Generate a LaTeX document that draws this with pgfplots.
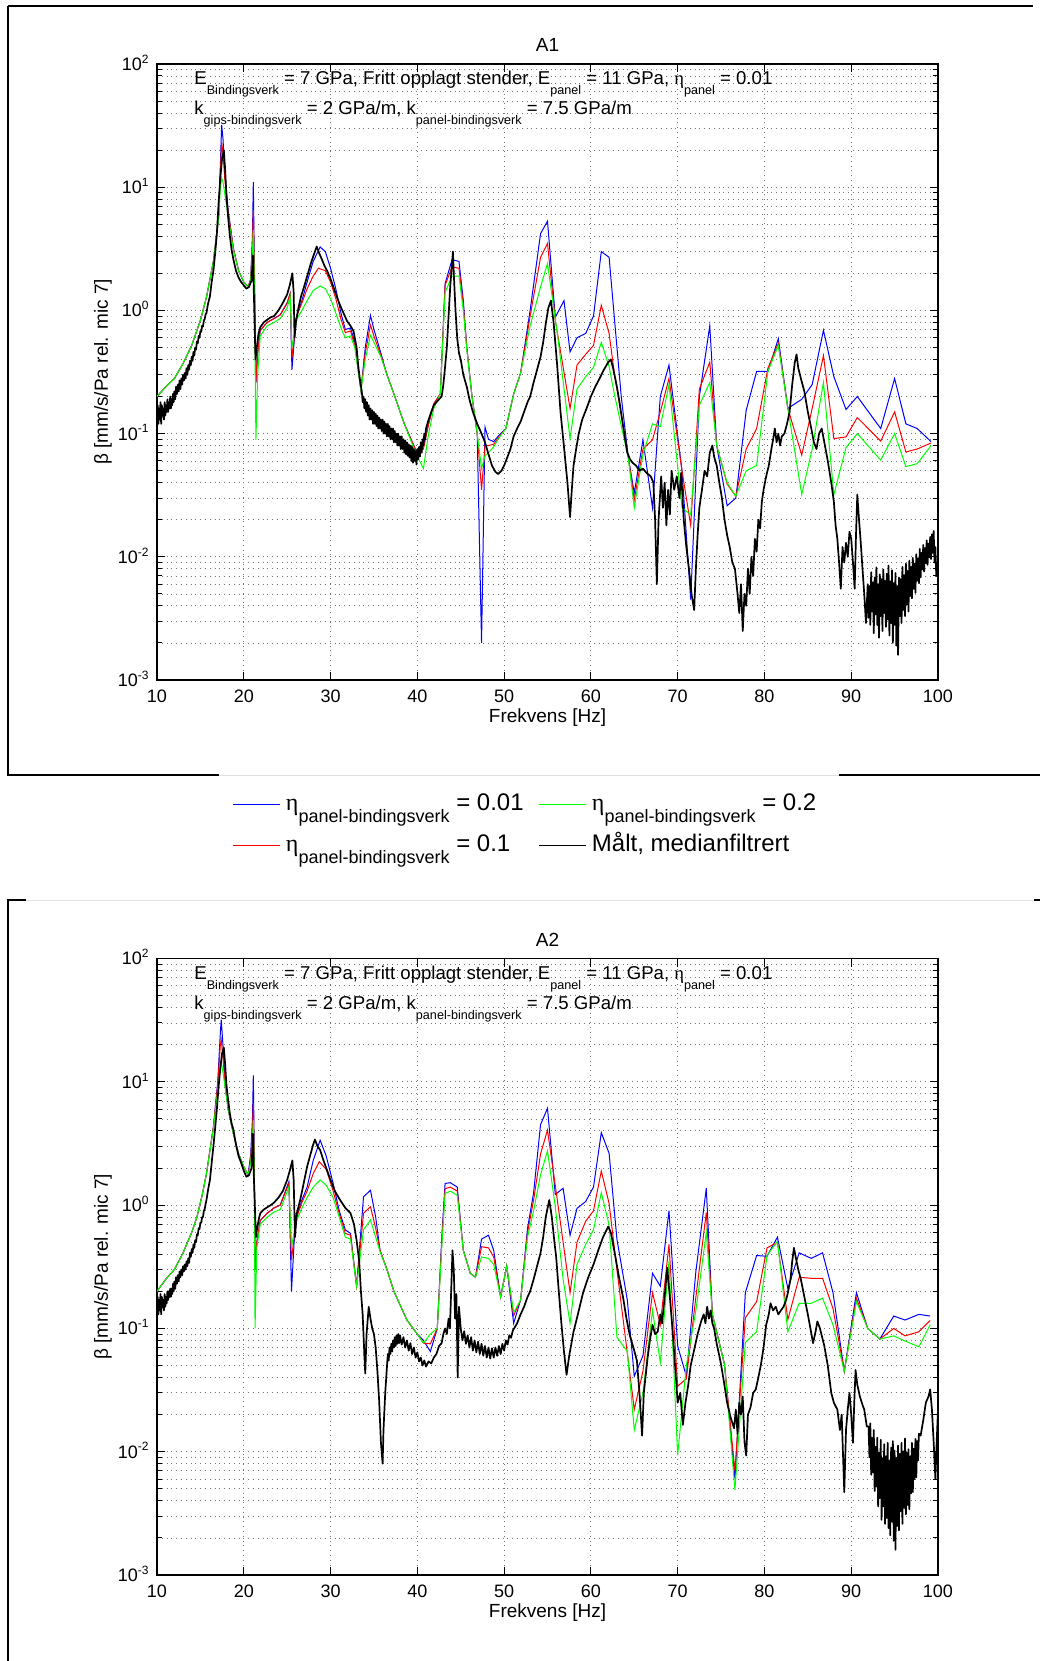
\documentclass[border=0pt]{standalone}
\usepackage{fontspec}
\setmainfont{Liberation Sans}
\newfontfamily\serifeta{Liberation Serif}
\usepackage{pgfplots}
\pgfplotsset{compat=1.18}
\newcommand{\sub}[1]{\raisebox{-5pt}{\fontsize{6.3}{7}\selectfont #1}}
\newcommand{\lsub}[1]{\raisebox{-5.75pt}{\fontsize{9}{10}\selectfont #1}}
\newcommand{\etasym}{{\serifeta η}}
\newcommand{\tp}[1]{10\raisebox{3.6pt}{\fontsize{6}{6}\selectfont #1}}
\tikzset{model/.style={line width=0.5pt}, meas/.style={black,line width=0.85pt,line join=round}}
\begin{document}
\begin{tikzpicture}
\path[use as bounding box] (0,0) rectangle (520pt,-830.5pt);
% frames
\draw[line width=0.6pt] (4pt,-3pt) -- (516.5pt,-3pt);
\draw[line width=0.6pt] (4pt,-3pt) -- (4pt,-387.5pt) -- (109.5pt,-387.5pt);
\draw[line width=0.6pt] (419.5pt,-387.5pt) -- (520pt,-387.5pt);
\draw[black!12,line width=0.5pt] (109.5pt,-387.5pt) -- (419.5pt,-387.5pt);
\draw[black!12,line width=0.5pt] (13pt,-450pt) -- (517pt,-450pt);
\draw[line width=0.6pt] (13pt,-450pt) -- (4pt,-450pt) -- (4pt,-830.5pt);
\draw[line width=0.6pt] (517pt,-450pt) -- (520pt,-450pt);

%================ A1 ================
\begin{axis}[
    scale only axis, width=390.5pt, height=308pt,
    at={(78.5pt,-32pt)}, anchor=north west, title={A1},
    xmin=10, xmax=100, ymode=log, ymin=1e-3, ymax=1e2,
    xtick={10,20,30,40,50,60,70,80,90,100},
    xticklabels={10,20,30,40,50,60,70,80,90,100},
    ytick={1e-3,1e-2,1e-1,1,10,100},
    yticklabels={\tp{-3},\tp{-2},\tp{-1},\tp{0},\tp{1},\tp{2}},
    minor ytick={2e-3,3e-3,4e-3,5e-3,6e-3,7e-3,8e-3,9e-3,2e-2,3e-2,4e-2,5e-2,6e-2,7e-2,8e-2,9e-2,0.2,0.3,0.4,0.5,0.6,0.7,0.8,0.9,2,3,4,5,6,7,8,9,20,30,40,50,60,70,80,90},
    grid=both, xminorgrids=false,
    major grid style={dotted,black!55,line width=0.4pt},
    minor grid style={dotted,black!55,line width=0.4pt},
    tick align=inside, tick pos=both,
    major tick length=4pt, minor tick length=2.5pt,
    tick style={black,line width=0.5pt},
    axis line style={line width=0.6pt},
    tick label style={font=\fontsize{9}{10}\selectfont},
    xticklabel style={anchor=base, yshift=-11.2pt, inner sep=0pt},
    yticklabel style={anchor=base east, yshift=-3.2pt, xshift=-4pt, inner sep=0pt},
    xlabel={Frekvens [Hz]},
    ylabel={β [mm/s/Pa rel. mic 7]},
    label style={font=\fontsize{9.5}{10}\selectfont},
    xlabel style={at={(axis description cs:0.5,-0.0617)}, anchor=center, inner sep=0pt},
    ylabel style={at={(axis description cs:-0.0691,0.5)}, anchor=center, inner sep=0pt},
    title style={at={(axis description cs:0.5,1.0308)}, anchor=center, yshift=-6pt, font=\fontsize{9.5}{10}\selectfont, inner sep=0pt},
  legend columns=2,
  legend style={at={(axis description cs:0.0973,-0.1763)}, anchor=north west, draw=none, fill=none,
    inner sep=0pt, outer sep=0pt, nodes={inner sep=0pt, text height=11pt, text depth=8pt, anchor=base west},
    row sep=1.5pt, /tikz/every odd column/.style={column sep=2.5pt},
    font=\fontsize{12}{14}\selectfont},
  legend image code/.code={\draw[#1,line width=0.5pt] (0pt,3.3pt) -- (23.5pt,3.3pt);}
]
\addlegendimage{blue}
\addlegendentry{\makebox[126.5pt][l]{\etasym\lsub{panel-bindingsverk} = 0.01}}
\addlegendimage{green}
\addlegendentry{\etasym\lsub{panel-bindingsverk} = 0.2}
\addlegendimage{red}
\addlegendentry{\makebox[126.5pt][l]{\etasym\lsub{panel-bindingsverk} = 0.1}}
\addlegendimage{black}
\addlegendentry{Målt, medianfiltrert}

\addplot[model, blue, forget plot] coordinates {(10,0.2)(11,0.24)(12,0.28)(13,0.37)(14,0.52)(15,0.83)(15.7,1.28)(16.5,2.5)(17.1,5.7)(17.3,15)(17.45,32)(17.6,25)(17.8,14)(18.2,6.5)(18.8,3.2)(19.4,2.1)(20,1.7)(20.5,1.55)(20.8,1.8)(21.0,4)(21.1,11)(21.2,3)(21.4,0.26)(21.6,0.45)(21.9,0.69)(22.7,0.8)(23.5,0.86)(24.2,0.92)(25.0,1.15)(25.35,1.37)(25.55,0.33)(25.8,0.55)(26.1,0.9)(26.7,1.2)(27.3,1.7)(28.0,2.5)(28.8,3.27)(29.4,3.0)(30.0,2.2)(30.6,1.5)(31.2,0.95)(31.7,0.7)(32.3,0.72)(32.8,0.55)(33.5,0.225)(34.0,0.5)(34.6,0.91)(35.0,0.7)(35.8,0.45)(36.5,0.3)(37.3,0.21)(38.5,0.12)(39.8,0.074)(40.2,0.066)(40.7,0.08)(41.3,0.12)(41.9,0.175)(42.65,0.21)(43.2,1.65)(44.0,2.58)(44.8,2.5)(45.3,1.2)(45.7,0.5)(46.3,0.2)(46.9,0.1)(47.4,0.002)(47.8,0.113)(48.2,0.09)(48.8,0.086)(49.3,0.095)(50.2,0.11)(51.1,0.21)(51.9,0.31)(53.0,1.0)(54.2,4.2)(55.0,5.3)(55.9,0.88)(56.9,1.2)(57.6,0.46)(58.4,0.6)(59.4,0.65)(60.3,0.9)(61.2,3.0)(62.1,2.7)(62.7,0.88)(63.5,0.2)(64.3,0.065)(65.0,0.033)(66.0,0.089)(67.1,0.025)(68.0,0.2)(69.0,0.36)(70.5,0.05)(71.5,0.0045)(72.5,0.2)(73.7,0.75)(74.5,0.08)(75.7,0.026)(76.7,0.03)(77.9,0.155)(79.1,0.32)(80.4,0.32)(81.6,0.59)(82.7,0.16)(84.3,0.19)(85.5,0.25)(86.8,0.69)(88.0,0.29)(89.4,0.157)(90.7,0.2)(93.4,0.11)(95.0,0.28)(96.3,0.12)(97.6,0.11)(99.2,0.086)};
\addplot[model, red, forget plot] coordinates {(10,0.2)(11,0.24)(12,0.28)(13,0.37)(14,0.52)(15,0.83)(15.7,1.28)(16.5,2.5)(17.1,5.7)(17.3,13)(17.45,23)(17.6,19)(17.8,12)(18.2,6.3)(18.8,3.2)(19.4,2.1)(20,1.7)(20.5,1.55)(20.8,1.8)(21.0,3.5)(21.1,6.5)(21.2,2.5)(21.4,0.26)(21.6,0.45)(21.9,0.69)(22.7,0.8)(23.5,0.86)(24.2,0.92)(25.0,1.15)(25.35,1.37)(25.55,0.41)(25.8,0.58)(26.1,0.9)(26.7,1.15)(27.3,1.5)(28.0,1.9)(28.6,2.2)(29.4,2.1)(30.0,1.7)(30.6,1.25)(31.2,0.85)(31.7,0.66)(32.3,0.68)(32.8,0.52)(33.5,0.225)(34.0,0.45)(34.6,0.76)(35.0,0.62)(35.8,0.43)(36.5,0.3)(37.3,0.21)(38.5,0.12)(39.8,0.074)(40.2,0.07)(40.7,0.075)(41.3,0.12)(41.9,0.175)(42.65,0.21)(43.2,1.6)(44.0,2.25)(44.8,2.2)(45.3,1.1)(45.7,0.5)(46.3,0.2)(46.9,0.1)(47.4,0.035)(47.8,0.08)(48.2,0.08)(48.8,0.082)(49.3,0.092)(50.2,0.11)(51.1,0.21)(51.9,0.31)(53.0,0.9)(54.2,2.7)(55.0,3.5)(55.9,0.83)(57.6,0.16)(58.4,0.36)(59.4,0.44)(60.3,0.52)(61.2,1.1)(62.1,0.65)(62.7,0.31)(64.3,0.065)(65.0,0.029)(66.0,0.075)(67.1,0.089)(68.0,0.15)(69.0,0.28)(70.5,0.05)(71.5,0.018)(72.5,0.23)(73.7,0.38)(74.5,0.08)(75.7,0.039)(76.7,0.031)(77.9,0.075)(79.1,0.11)(80.4,0.34)(81.6,0.54)(82.7,0.16)(84.3,0.067)(85.5,0.16)(86.8,0.43)(88.0,0.091)(89.4,0.094)(90.7,0.135)(93.4,0.087)(95.0,0.15)(96.3,0.071)(97.6,0.075)(99.2,0.084)};
\addplot[model, green, forget plot] coordinates {(10,0.2)(11,0.24)(12,0.28)(13,0.37)(14,0.52)(15,0.83)(15.7,1.28)(16.5,2.5)(17.1,5.5)(17.3,10)(17.45,11.8)(17.6,11)(17.8,9)(18.2,5.8)(18.8,3.1)(19.4,2.1)(20,1.7)(20.5,1.55)(20.8,1.75)(21.0,3)(21.1,4.5)(21.2,2)(21.4,0.089)(21.6,0.3)(21.9,0.62)(22.7,0.75)(23.5,0.8)(24.2,0.86)(25.0,1.05)(25.35,1.3)(25.55,0.51)(25.8,0.62)(26.1,0.85)(26.7,1.0)(27.3,1.2)(28.0,1.45)(28.8,1.58)(29.4,1.5)(30.0,1.25)(30.6,0.95)(31.2,0.72)(31.7,0.6)(32.3,0.62)(32.8,0.5)(33.5,0.225)(34.0,0.4)(34.6,0.63)(35.0,0.55)(35.8,0.42)(36.5,0.3)(37.3,0.21)(38.5,0.12)(39.8,0.07)(40.7,0.052)(41.3,0.1)(41.9,0.16)(42.65,0.21)(43.2,1.4)(44.0,1.9)(44.8,1.9)(45.3,1.0)(45.7,0.48)(46.3,0.2)(46.9,0.1)(47.4,0.052)(47.8,0.066)(48.2,0.07)(48.8,0.078)(49.3,0.09)(50.2,0.11)(51.1,0.21)(51.9,0.31)(53.0,0.75)(54.2,1.55)(55.0,2.4)(56.2,0.6)(57.6,0.091)(58.4,0.23)(59.4,0.29)(60.3,0.345)(61.2,0.55)(62.1,0.35)(62.7,0.21)(64.3,0.064)(65.0,0.025)(66.0,0.068)(67.1,0.12)(68.0,0.114)(69.0,0.25)(70.5,0.025)(71.5,0.022)(72.5,0.17)(73.7,0.26)(74.5,0.08)(75.7,0.04)(76.7,0.031)(77.9,0.05)(79.1,0.055)(80.4,0.32)(81.6,0.52)(82.7,0.16)(84.3,0.032)(85.5,0.075)(86.8,0.26)(88.0,0.032)(89.4,0.077)(90.7,0.1)(93.4,0.061)(95.0,0.1)(96.3,0.054)(97.6,0.057)(99.2,0.08)};
\addplot[meas, forget plot] coordinates {(10.0,0.11)(10.08,0.17)(10.16,0.12)(10.24,0.16)(10.32,0.13)(10.4,0.18)(10.48,0.12)(10.56,0.17)(10.64,0.14)(10.72,0.16)(10.8,0.13)(10.88,0.18)(10.96,0.14)(11.04,0.17)(11.12,0.15)(11.2,0.19)(11.28,0.15)(11.36,0.18)(11.44,0.16)(11.52,0.2)(11.6,0.16)(11.68,0.19)(11.76,0.17)(11.84,0.21)(11.92,0.18)(12.0,0.22)(12.1,0.19)(12.2,0.24)(12.3,0.21)(12.4,0.25)(12.5,0.22)(12.6,0.27)(12.7,0.23)(12.8,0.28)(12.9,0.25)(13.0,0.3)(13.1,0.27)(13.2,0.31)(13.3,0.28)(13.4,0.34)(13.5,0.3)(13.6,0.36)(13.7,0.33)(13.8,0.39)(13.9,0.36)(14.0,0.42)(14.1,0.39)(14.2,0.46)(14.3,0.43)(14.4,0.5)(14.5,0.48)(14.6,0.56)(14.7,0.54)(14.8,0.62)(14.9,0.6)(15.0,0.68)(15.1,0.67)(15.2,0.75)(15.3,0.74)(15.4,0.83)(15.5,0.85)(15.6,0.93)(15.7,0.95)(15.8,1.05)(15.9,1.15)(16.1,1.3)(16.3,1.7)(16.5,2.1)(16.7,2.9)(16.9,4.2)(17.1,7.5)(17.3,12)(17.5,17)(17.7,20)(17.85,14)(18.0,8.5)(18.2,5.7)(18.4,4.0)(18.6,3.1)(18.8,2.6)(19.1,2.1)(19.4,1.85)(19.7,1.7)(20.0,1.6)(20.3,1.5)(20.6,1.55)(20.9,1.75)(21.05,2.8)(21.15,1.5)(21.35,0.4)(21.5,0.5)(21.7,0.65)(21.9,0.73)(22.3,0.8)(22.7,0.84)(23.1,0.88)(23.5,0.9)(24.0,1.0)(24.5,1.15)(25.0,1.35)(25.3,1.6)(25.6,2.0)(25.75,1.4)(25.85,0.6)(26.0,0.8)(26.3,1.05)(26.6,1.3)(27.0,1.6)(27.4,2.0)(27.8,2.5)(28.2,3.0)(28.4,3.3)(28.7,2.9)(29.0,2.6)(29.3,2.3)(29.6,2.1)(30.0,1.8)(30.4,1.5)(30.7,1.3)(31.1,1.1)(31.5,0.95)(31.9,0.82)(32.3,0.75)(32.65,0.68)(33.0,0.5)(33.2,0.35)(33.4,0.27)(33.6,0.22)(33.7,0.18)(33.8,0.2)(33.9,0.16)(34.0,0.19)(34.1,0.15)(34.2,0.18)(34.3,0.14)(34.4,0.17)(34.5,0.13)(34.6,0.16)(34.7,0.13)(34.8,0.155)(34.9,0.12)(35.0,0.15)(35.1,0.12)(35.2,0.145)(35.3,0.115)(35.4,0.14)(35.5,0.11)(35.6,0.135)(35.7,0.11)(35.8,0.13)(35.9,0.105)(36.0,0.13)(36.1,0.1)(36.2,0.125)(36.3,0.1)(36.4,0.12)(36.5,0.095)(36.6,0.12)(36.7,0.095)(36.8,0.115)(36.9,0.09)(37.0,0.11)(37.1,0.09)(37.2,0.11)(37.3,0.085)(37.4,0.105)(37.5,0.085)(37.6,0.1)(37.7,0.08)(37.8,0.1)(37.9,0.08)(38.0,0.095)(38.1,0.075)(38.2,0.095)(38.3,0.075)(38.4,0.09)(38.5,0.07)(38.6,0.088)(38.7,0.068)(38.8,0.085)(38.9,0.066)(39.0,0.082)(39.1,0.064)(39.2,0.08)(39.3,0.06)(39.4,0.078)(39.5,0.058)(39.6,0.075)(39.7,0.06)(39.8,0.072)(39.9,0.056)(40.0,0.075)(40.1,0.062)(40.2,0.078)(40.3,0.065)(40.4,0.085)(40.5,0.07)(40.6,0.09)(40.7,0.08)(40.8,0.1)(40.9,0.09)(41.0,0.11)(41.3,0.13)(41.6,0.15)(41.9,0.17)(42.2,0.18)(42.5,0.19)(42.8,0.2)(43.0,0.25)(43.2,0.35)(43.4,0.5)(43.6,0.9)(43.8,1.6)(44.0,2.4)(44.1,3.0)(44.2,2.0)(44.4,1.0)(44.6,0.59)(44.8,0.45)(45.0,0.4)(45.3,0.3)(45.7,0.24)(46.0,0.19)(46.4,0.15)(46.9,0.12)(47.4,0.1)(47.8,0.085)(48.2,0.068)(48.6,0.055)(49.0,0.049)(49.3,0.047)(49.7,0.05)(50.0,0.055)(50.4,0.065)(50.7,0.074)(51.1,0.095)(51.5,0.11)(51.9,0.125)(52.3,0.15)(52.7,0.18)(53.0,0.2)(53.4,0.26)(53.8,0.33)(54.2,0.42)(54.5,0.55)(54.8,0.78)(55.1,1.05)(55.4,1.2)(55.7,0.8)(56.1,0.37)(56.5,0.15)(56.9,0.078)(57.3,0.04)(57.6,0.021)(57.8,0.035)(58.0,0.055)(58.3,0.075)(58.6,0.1)(59.0,0.13)(59.5,0.16)(60.0,0.2)(60.5,0.24)(61.0,0.28)(61.5,0.33)(62.0,0.38)(62.3,0.4)(62.6,0.33)(63.0,0.24)(63.3,0.18)(63.6,0.13)(64.0,0.085)(64.2,0.07)(64.5,0.062)(64.8,0.058)(65.2,0.055)(65.6,0.05)(66.0,0.052)(66.4,0.048)(66.9,0.045)(67.2,0.04)(67.4,0.02)(67.6,0.006)(67.8,0.02)(68.1,0.045)(68.3,0.025)(68.5,0.04)(68.7,0.018)(68.9,0.035)(69.1,0.022)(69.3,0.05)(69.6,0.035)(69.9,0.045)(70.2,0.03)(70.4,0.048)(70.7,0.02)(71.0,0.012)(71.3,0.008)(71.6,0.005)(71.9,0.0037)(72.1,0.008)(72.3,0.015)(72.5,0.025)(72.8,0.035)(73.1,0.05)(73.4,0.045)(73.7,0.07)(74.0,0.08)(74.2,0.065)(74.5,0.055)(74.8,0.04)(75.1,0.03)(75.4,0.02)(75.7,0.015)(76.0,0.012)(76.3,0.009)(76.6,0.008)(76.9,0.005)(77.1,0.0035)(77.3,0.006)(77.5,0.0025)(77.7,0.005)(77.9,0.004)(78.1,0.008)(78.3,0.005)(78.5,0.01)(78.7,0.007)(78.9,0.014)(79.1,0.011)(79.3,0.02)(79.5,0.017)(79.7,0.028)(79.9,0.035)(80.2,0.045)(80.5,0.055)(80.8,0.075)(81.0,0.09)(81.2,0.11)(81.4,0.085)(81.6,0.1)(81.8,0.08)(82.0,0.095)(82.3,0.1)(82.6,0.12)(82.9,0.15)(83.2,0.25)(83.5,0.38)(83.7,0.44)(83.9,0.34)(84.2,0.28)(84.6,0.22)(85.0,0.15)(85.4,0.11)(85.7,0.085)(86.0,0.075)(86.3,0.1)(86.6,0.11)(86.9,0.085)(87.3,0.06)(87.7,0.04)(88.0,0.028)(88.2,0.018)(88.4,0.014)(88.6,0.009)(88.8,0.0055)(89.0,0.012)(89.2,0.009)(89.4,0.013)(89.6,0.01)(89.8,0.016)(90.0,0.014)(90.2,0.009)(90.4,0.0055)(90.55,0.015)(90.7,0.032)(90.9,0.02)(91.1,0.013)(91.3,0.008)(91.5,0.005)(91.7,0.0029)(91.9,0.006)(92.0,0.0032)(92.1,0.0058)(92.2,0.0028)(92.3,0.0075)(92.4,0.0036)(92.5,0.0062)(92.6,0.0024)(92.7,0.0068)(92.8,0.0034)(92.9,0.0082)(93.0,0.0028)(93.1,0.006)(93.2,0.0022)(93.3,0.0072)(93.4,0.0033)(93.5,0.0066)(93.6,0.0025)(93.7,0.0079)(93.8,0.0035)(93.9,0.0064)(94.0,0.0027)(94.1,0.0073)(94.2,0.0031)(94.3,0.0085)(94.4,0.0023)(94.5,0.0063)(94.6,0.0029)(94.7,0.0078)(94.8,0.002)(94.9,0.0061)(95.0,0.0028)(95.1,0.0074)(95.2,0.0019)(95.3,0.0058)(95.4,0.0016)(95.5,0.0068)(95.6,0.0033)(95.7,0.0066)(95.8,0.0029)(95.9,0.0083)(96.0,0.0037)(96.1,0.0071)(96.2,0.0033)(96.3,0.0088)(96.4,0.0041)(96.5,0.0077)(96.6,0.0036)(96.7,0.0093)(96.8,0.0048)(96.9,0.0083)(97.0,0.0046)(97.1,0.0098)(97.2,0.0055)(97.3,0.0088)(97.4,0.0051)(97.5,0.0105)(97.6,0.0064)(97.7,0.0097)(97.8,0.0061)(97.9,0.0116)(98.0,0.0068)(98.1,0.0108)(98.2,0.0079)(98.3,0.0125)(98.4,0.0076)(98.5,0.0118)(98.6,0.0089)(98.7,0.0136)(98.8,0.0086)(98.9,0.0128)(99.0,0.0099)(99.1,0.0145)(99.2,0.0096)(99.3,0.0152)(99.4,0.0108)(99.5,0.0162)(99.6,0.009)(99.7,0.012)(99.8,0.007)(99.9,0.009)(100,0.0065)};
\node[anchor=base west, inner sep=0pt, font=\fontsize{9.3}{10}\selectfont] at (axis description cs:0.0474,0.9667) {E\sub{Bindingsverk} = 7 GPa, Fritt opplagt stender, E\sub{panel} = 11 GPa, \etasym\sub{panel} = 0.01};
\node[anchor=base west, inner sep=0pt, font=\fontsize{9.3}{10}\selectfont] at (axis description cs:0.0474,0.918) {k\sub{gips-bindingsverk} = 2 GPa/m, k\sub{panel-bindingsverk} = 7.5 GPa/m};
\end{axis}

%================ A2 ================
\begin{axis}[
    scale only axis, width=390.5pt, height=308.25pt,
    at={(78.5pt,-479.25pt)}, anchor=north west, title={A2},
    xmin=10, xmax=100, ymode=log, ymin=1e-3, ymax=1e2,
    xtick={10,20,30,40,50,60,70,80,90,100},
    xticklabels={10,20,30,40,50,60,70,80,90,100},
    ytick={1e-3,1e-2,1e-1,1,10,100},
    yticklabels={\tp{-3},\tp{-2},\tp{-1},\tp{0},\tp{1},\tp{2}},
    minor ytick={2e-3,3e-3,4e-3,5e-3,6e-3,7e-3,8e-3,9e-3,2e-2,3e-2,4e-2,5e-2,6e-2,7e-2,8e-2,9e-2,0.2,0.3,0.4,0.5,0.6,0.7,0.8,0.9,2,3,4,5,6,7,8,9,20,30,40,50,60,70,80,90},
    grid=both, xminorgrids=false,
    major grid style={dotted,black!55,line width=0.4pt},
    minor grid style={dotted,black!55,line width=0.4pt},
    tick align=inside, tick pos=both,
    major tick length=4pt, minor tick length=2.5pt,
    tick style={black,line width=0.5pt},
    axis line style={line width=0.6pt},
    tick label style={font=\fontsize{9}{10}\selectfont},
    xticklabel style={anchor=base, yshift=-11.2pt, inner sep=0pt},
    yticklabel style={anchor=base east, yshift=-3.2pt, xshift=-4pt, inner sep=0pt},
    xlabel={Frekvens [Hz]},
    ylabel={β [mm/s/Pa rel. mic 7]},
    label style={font=\fontsize{9.5}{10}\selectfont},
    xlabel style={at={(axis description cs:0.5,-0.0617)}, anchor=center, inner sep=0pt},
    ylabel style={at={(axis description cs:-0.0691,0.5)}, anchor=center, inner sep=0pt},
    title style={at={(axis description cs:0.5,1.0308)}, anchor=center, yshift=-6pt, font=\fontsize{9.5}{10}\selectfont, inner sep=0pt},
]
\addplot[model, blue] coordinates {(10,0.2)(11,0.25)(12,0.3)(13,0.41)(14,0.6)(14.6,0.8)(15.2,1.2)(15.7,1.8)(16.5,4.3)(17.0,10)(17.3,25)(17.4,32)(17.6,20)(17.85,9.7)(18.2,6)(18.8,3.8)(19.4,2.6)(20,2.05)(20.5,1.75)(20.8,2.6)(21.0,5)(21.1,11.3)(21.2,3)(21.3,0.3)(21.5,0.5)(21.9,0.75)(22.7,0.86)(23.5,0.95)(24.2,1.0)(25.2,1.55)(25.5,0.2)(25.8,0.5)(26.1,0.8)(26.7,1.1)(27.3,1.4)(28.0,2.3)(28.8,3.36)(29.5,2.5)(30.3,1.5)(31.0,0.9)(31.7,0.63)(32.3,0.59)(33.0,0.22)(33.8,1.17)(34.6,1.32)(35.2,0.8)(35.7,0.43)(36.5,0.3)(37.3,0.2)(38.8,0.117)(40.0,0.09)(40.7,0.08)(41.5,0.065)(42.3,0.1)(42.85,0.6)(43.2,1.5)(43.8,1.52)(44.6,1.4)(45.3,0.43)(46.1,0.28)(46.7,0.26)(47.4,0.53)(48.2,0.57)(48.8,0.43)(49.6,0.18)(50.3,0.32)(51.1,0.11)(51.9,0.17)(52.7,0.65)(53.4,1.26)(54.2,4.5)(55.0,6.1)(55.9,1.22)(56.8,1.37)(57.6,0.57)(58.4,0.94)(59.4,1.07)(60.3,1.4)(61.2,3.87)(62.1,2.63)(63.0,0.53)(64.2,0.17)(65.0,0.041)(66.0,0.06)(67.1,0.28)(68.0,0.22)(69.0,0.9)(70.0,0.072)(71.0,0.041)(72.1,0.29)(73.3,1.37)(74.0,0.13)(75.4,0.051)(76.6,0.006)(77.8,0.195)(79.1,0.39)(80.3,0.385)(81.5,0.55)(82.7,0.21)(84.0,0.41)(85.4,0.37)(86.7,0.41)(87.9,0.195)(89.2,0.045)(90.6,0.195)(91.9,0.1)(93.3,0.082)(94.9,0.126)(96.2,0.117)(97.8,0.13)(99.1,0.126)};
\addplot[model, red] coordinates {(10,0.2)(11,0.25)(12,0.3)(13,0.41)(14,0.6)(14.6,0.8)(15.2,1.2)(15.7,1.8)(16.5,4.3)(17.0,9.5)(17.3,20)(17.4,22)(17.6,16)(17.85,9.5)(18.2,6)(18.8,3.8)(19.4,2.6)(20,2.05)(20.5,1.75)(20.8,2.4)(21.0,4)(21.1,6.7)(21.2,2.5)(21.3,0.3)(21.5,0.5)(21.9,0.75)(22.7,0.86)(23.5,0.95)(24.2,1.0)(25.2,1.5)(25.5,0.36)(25.8,0.55)(26.1,0.8)(26.7,1.05)(27.3,1.3)(28.0,1.8)(28.7,2.25)(29.5,1.95)(30.3,1.3)(31.0,0.85)(31.7,0.59)(32.3,0.57)(33.0,0.22)(33.8,0.86)(34.6,0.97)(35.2,0.65)(35.7,0.43)(36.5,0.3)(37.3,0.2)(38.8,0.117)(40.0,0.09)(40.7,0.076)(41.5,0.075)(42.3,0.1)(42.85,0.55)(43.2,1.36)(43.8,1.4)(44.6,1.3)(45.3,0.43)(46.1,0.28)(46.7,0.26)(47.4,0.46)(48.2,0.45)(48.8,0.38)(49.6,0.18)(50.3,0.32)(51.1,0.127)(51.9,0.17)(52.7,0.6)(53.4,1.1)(54.2,2.6)(55.0,4.06)(55.9,1.44)(56.8,0.5)(57.6,0.195)(58.4,0.5)(59.4,0.74)(60.3,0.9)(61.2,1.89)(62.1,1.03)(63.0,0.3)(64.2,0.063)(65.0,0.022)(66.0,0.045)(67.1,0.195)(68.0,0.107)(69.0,0.48)(70.0,0.034)(71.0,0.039)(72.1,0.18)(73.3,0.87)(74.0,0.13)(75.4,0.051)(76.6,0.007)(77.8,0.122)(79.1,0.165)(80.3,0.45)(81.5,0.5)(82.7,0.118)(84.0,0.26)(85.4,0.255)(86.7,0.255)(87.9,0.145)(89.2,0.045)(90.6,0.176)(91.9,0.1)(93.3,0.082)(94.9,0.1)(96.2,0.087)(97.8,0.094)(99.1,0.116)};
\addplot[model, green] coordinates {(10,0.2)(11,0.25)(12,0.3)(13,0.41)(14,0.6)(14.6,0.8)(15.2,1.2)(15.7,1.8)(16.5,4.2)(17.0,8.5)(17.3,13)(17.4,14.5)(17.6,12)(17.85,9)(18.2,6)(18.8,3.8)(19.4,2.6)(20,2.05)(20.5,1.75)(20.8,2.2)(21.0,3.5)(21.1,4.9)(21.2,2)(21.3,0.1)(21.5,0.45)(21.9,0.7)(22.7,0.8)(23.5,0.88)(24.2,0.92)(25.2,1.4)(25.5,0.46)(25.8,0.6)(26.1,0.75)(26.7,0.95)(27.3,1.15)(28.0,1.4)(28.8,1.6)(29.5,1.45)(30.3,1.15)(31.0,0.8)(31.7,0.55)(32.3,0.53)(33.0,0.22)(33.8,0.63)(34.6,0.76)(35.2,0.55)(35.7,0.42)(36.5,0.3)(37.3,0.2)(38.8,0.117)(40.0,0.09)(40.7,0.076)(41.5,0.09)(42.3,0.1)(42.85,0.5)(43.2,1.24)(43.8,1.3)(44.6,1.2)(45.3,0.43)(46.1,0.28)(46.7,0.26)(47.4,0.38)(48.2,0.37)(48.8,0.33)(49.6,0.18)(50.3,0.32)(51.1,0.135)(51.9,0.17)(52.7,0.55)(53.4,0.9)(54.2,1.76)(55.0,2.76)(55.9,0.97)(56.8,0.25)(57.6,0.11)(58.4,0.33)(59.4,0.48)(60.3,0.63)(61.2,1.26)(62.1,0.69)(63.0,0.085)(64.2,0.065)(65.0,0.015)(66.0,0.03)(67.1,0.14)(68.0,0.053)(69.0,0.35)(70.0,0.0094)(71.0,0.05)(72.1,0.14)(73.3,0.6)(74.0,0.13)(75.4,0.051)(76.6,0.0049)(77.8,0.077)(79.1,0.094)(80.3,0.39)(81.5,0.51)(82.7,0.094)(84.0,0.16)(85.4,0.16)(86.7,0.176)(87.9,0.107)(89.2,0.045)(90.6,0.165)(91.9,0.1)(93.3,0.082)(94.9,0.087)(96.2,0.079)(97.8,0.071)(99.1,0.107)};
\addplot[meas] coordinates {(10.0,0.12)(10.08,0.18)(10.16,0.13)(10.24,0.17)(10.32,0.14)(10.4,0.19)(10.48,0.13)(10.56,0.18)(10.64,0.15)(10.72,0.17)(10.8,0.14)(10.88,0.19)(10.96,0.15)(11.04,0.18)(11.12,0.16)(11.2,0.2)(11.28,0.17)(11.36,0.2)(11.44,0.18)(11.52,0.21)(11.6,0.18)(11.68,0.21)(11.76,0.19)(11.84,0.23)(11.92,0.2)(12.0,0.24)(12.1,0.21)(12.2,0.26)(12.3,0.23)(12.4,0.27)(12.5,0.24)(12.6,0.29)(12.7,0.26)(12.8,0.3)(12.9,0.27)(13.0,0.32)(13.1,0.29)(13.2,0.33)(13.3,0.3)(13.4,0.35)(13.5,0.32)(13.6,0.37)(13.7,0.34)(13.8,0.41)(13.9,0.38)(14.0,0.44)(14.1,0.41)(14.2,0.48)(14.3,0.45)(14.4,0.52)(14.5,0.5)(14.6,0.58)(14.7,0.57)(14.8,0.65)(14.9,0.64)(15.0,0.72)(15.1,0.72)(15.2,0.8)(15.3,0.8)(15.4,0.9)(15.5,0.93)(15.6,1.02)(15.7,1.1)(15.9,1.35)(16.1,1.6)(16.3,2.2)(16.5,3.0)(16.7,4.2)(16.9,6)(17.1,9.1)(17.3,13)(17.5,17)(17.7,19)(17.85,14)(18.0,9.5)(18.2,7.1)(18.4,5.5)(18.6,4.6)(18.8,4.1)(19.1,3.1)(19.4,2.5)(19.7,2.2)(20.0,1.9)(20.3,1.7)(20.6,1.75)(20.9,2.0)(21.05,3.8)(21.15,1.8)(21.4,0.55)(21.5,0.62)(21.7,0.75)(21.9,0.86)(22.3,0.92)(22.7,0.96)(23.1,1.0)(23.5,1.05)(24.0,1.15)(24.5,1.3)(25.0,1.6)(25.3,1.9)(25.6,2.3)(25.75,1.6)(25.9,0.55)(26.1,0.85)(26.5,1.1)(26.9,1.5)(27.3,2.05)(27.7,2.6)(28.0,3.1)(28.2,3.4)(28.5,3.0)(28.8,2.8)(29.1,2.4)(29.5,2.0)(30.0,1.6)(30.5,1.3)(31.1,1.1)(31.7,0.95)(32.3,0.86)(32.7,0.7)(33.0,0.52)(33.3,0.35)(33.5,0.2)(33.7,0.13)(33.9,0.06)(34.0,0.043)(34.15,0.09)(34.4,0.15)(34.6,0.12)(34.8,0.1)(35.0,0.09)(35.2,0.07)(35.4,0.045)(35.6,0.026)(35.8,0.012)(36.0,0.008)(36.1,0.015)(36.3,0.03)(36.5,0.049)(36.6,0.062)(36.7,0.055)(36.8,0.07)(36.9,0.062)(37.0,0.075)(37.1,0.065)(37.2,0.08)(37.3,0.07)(37.4,0.085)(37.5,0.072)(37.6,0.088)(37.7,0.075)(37.8,0.09)(37.9,0.076)(38.0,0.088)(38.2,0.074)(38.4,0.085)(38.6,0.07)(38.8,0.08)(39.0,0.066)(39.2,0.076)(39.4,0.062)(39.6,0.07)(39.8,0.058)(40.0,0.064)(40.2,0.054)(40.4,0.058)(40.6,0.05)(40.8,0.055)(41.0,0.049)(41.3,0.054)(41.6,0.052)(41.9,0.058)(42.2,0.062)(42.5,0.072)(42.8,0.076)(43.0,0.09)(43.2,0.1)(43.4,0.09)(43.6,0.12)(43.75,0.1)(43.9,0.2)(44.05,0.43)(44.2,0.3)(44.35,0.12)(44.5,0.19)(44.65,0.04)(44.8,0.15)(45.0,0.1)(45.2,0.08)(45.4,0.095)(45.6,0.075)(45.8,0.088)(46.0,0.07)(46.2,0.085)(46.4,0.066)(46.6,0.08)(46.8,0.064)(47.0,0.078)(47.2,0.062)(47.4,0.075)(47.6,0.06)(47.8,0.072)(48.0,0.058)(48.2,0.07)(48.4,0.057)(48.6,0.069)(48.8,0.058)(49.0,0.07)(49.2,0.06)(49.4,0.072)(49.6,0.062)(49.8,0.075)(50.0,0.066)(50.2,0.08)(50.4,0.074)(50.6,0.088)(50.8,0.084)(51.0,0.096)(51.5,0.11)(51.9,0.13)(52.3,0.15)(52.7,0.18)(53.0,0.2)(53.4,0.25)(53.8,0.32)(54.2,0.41)(54.5,0.55)(54.8,0.8)(55.2,1.1)(55.5,0.8)(55.8,0.5)(56.0,0.38)(56.3,0.2)(56.6,0.11)(56.9,0.065)(57.2,0.042)(57.5,0.06)(58.0,0.094)(58.5,0.13)(59.1,0.195)(59.7,0.26)(60.3,0.33)(60.9,0.44)(61.4,0.55)(62.0,0.67)(62.3,0.6)(62.8,0.39)(63.2,0.27)(63.7,0.18)(64.1,0.12)(64.5,0.087)(64.9,0.07)(65.3,0.055)(65.6,0.03)(65.9,0.0135)(66.1,0.03)(66.5,0.055)(66.8,0.08)(67.1,0.107)(67.4,0.09)(67.7,0.094)(68.0,0.13)(68.2,0.11)(68.5,0.18)(68.8,0.31)(69.1,0.18)(69.4,0.1)(69.7,0.05)(70.0,0.025)(70.3,0.03)(70.6,0.0165)(70.9,0.025)(71.2,0.034)(71.5,0.05)(71.9,0.067)(72.3,0.09)(72.7,0.114)(73.0,0.13)(73.2,0.11)(73.4,0.15)(73.6,0.12)(73.8,0.14)(74.0,0.11)(74.2,0.1)(74.5,0.075)(74.8,0.06)(75.0,0.051)(75.3,0.038)(75.7,0.025)(76.1,0.019)(76.5,0.0155)(76.7,0.022)(76.9,0.014)(77.1,0.025)(77.3,0.02)(77.5,0.028)(77.7,0.012)(77.9,0.0093)(78.1,0.02)(78.4,0.023)(78.7,0.03)(79.0,0.032)(79.3,0.04)(79.6,0.051)(79.9,0.07)(80.2,0.107)(80.5,0.13)(80.7,0.16)(81.0,0.14)(81.3,0.15)(81.6,0.13)(81.9,0.14)(82.2,0.15)(82.5,0.17)(82.7,0.195)(83.0,0.25)(83.2,0.35)(83.4,0.45)(83.6,0.38)(83.9,0.3)(84.2,0.25)(84.6,0.18)(85.0,0.13)(85.3,0.1)(85.6,0.076)(85.9,0.095)(86.1,0.114)(86.4,0.1)(86.9,0.072)(87.3,0.05)(87.7,0.03)(88.0,0.025)(88.4,0.022)(88.7,0.015)(88.9,0.02)(89.2,0.0047)(89.4,0.015)(89.6,0.022)(89.8,0.03)(90.0,0.02)(90.2,0.0118)(90.35,0.025)(90.5,0.046)(90.7,0.035)(91.0,0.028)(91.3,0.024)(91.5,0.022)(91.8,0.016)(92.0,0.016)(92.1,0.009)(92.2,0.017)(92.3,0.0065)(92.4,0.013)(92.5,0.0068)(92.6,0.015)(92.7,0.0048)(92.8,0.011)(92.9,0.0052)(93.0,0.013)(93.1,0.0036)(93.2,0.0098)(93.3,0.0042)(93.4,0.0125)(93.5,0.0028)(93.6,0.0088)(93.7,0.0036)(93.8,0.0115)(93.9,0.0026)(94.0,0.0092)(94.1,0.0029)(94.2,0.0118)(94.3,0.0024)(94.4,0.0085)(94.5,0.0021)(94.6,0.0108)(94.7,0.0027)(94.8,0.0122)(94.9,0.0019)(95.0,0.0102)(95.1,0.0016)(95.2,0.0089)(95.3,0.0025)(95.4,0.0112)(95.5,0.0023)(95.6,0.0096)(95.7,0.0033)(95.8,0.0118)(95.9,0.0026)(96.0,0.0101)(96.1,0.0035)(96.2,0.0128)(96.3,0.0031)(96.4,0.0098)(96.5,0.0037)(96.6,0.0105)(96.7,0.0034)(96.8,0.0092)(96.9,0.0046)(97.0,0.0118)(97.1,0.0047)(97.2,0.0106)(97.3,0.006)(97.4,0.0127)(97.5,0.0062)(97.6,0.0122)(97.7,0.0085)(97.8,0.014)(98.0,0.0135)(98.3,0.018)(98.6,0.025)(98.9,0.028)(99.1,0.032)(99.3,0.022)(99.5,0.012)(99.7,0.006)(99.85,0.012)(100,0.022)};
\node[anchor=base west, inner sep=0pt, font=\fontsize{9.3}{10}\selectfont] at (axis description cs:0.0474,0.9667) {E\sub{Bindingsverk} = 7 GPa, Fritt opplagt stender, E\sub{panel} = 11 GPa, \etasym\sub{panel} = 0.01};
\node[anchor=base west, inner sep=0pt, font=\fontsize{9.3}{10}\selectfont] at (axis description cs:0.0474,0.918) {k\sub{gips-bindingsverk} = 2 GPa/m, k\sub{panel-bindingsverk} = 7.5 GPa/m};
\end{axis}
\end{tikzpicture}
\end{document}
